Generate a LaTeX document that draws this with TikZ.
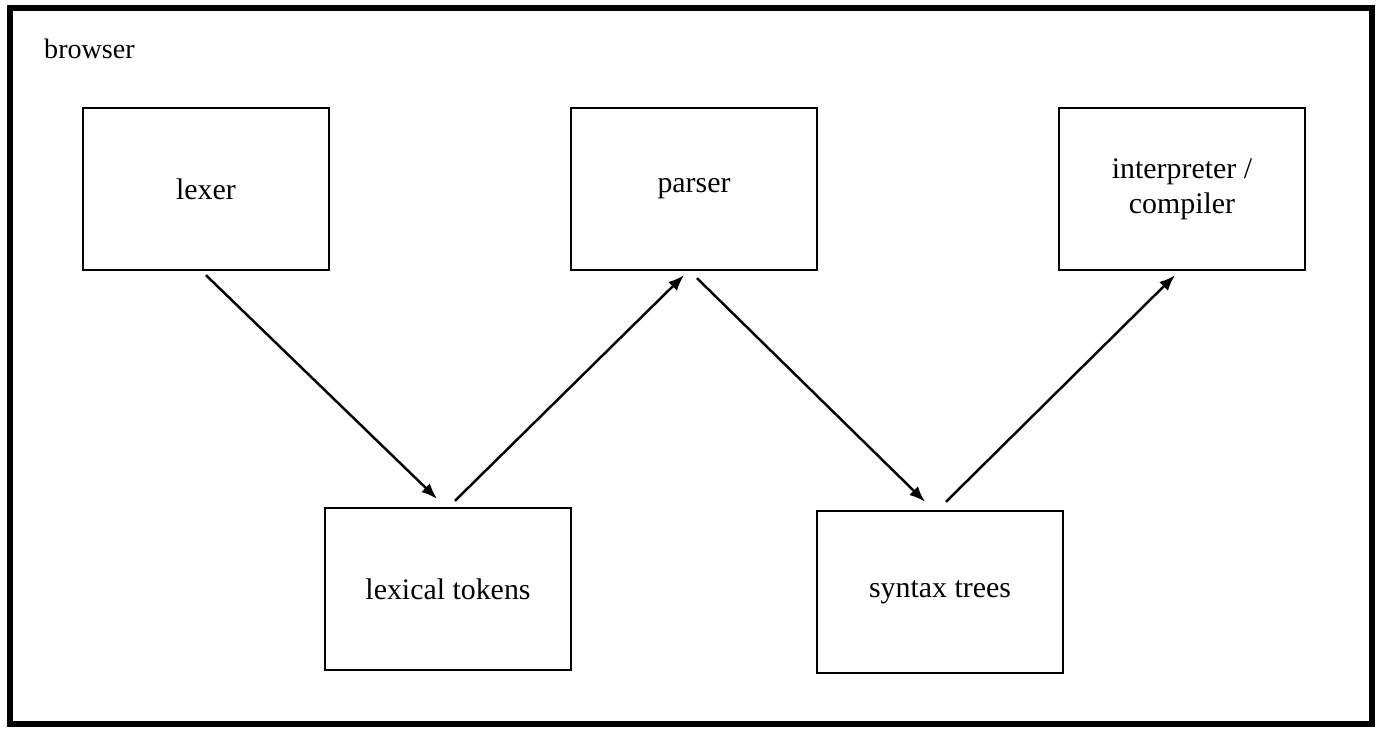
\documentclass[tikz,border=0pt]{standalone}
\usepackage{fontspec}
\setmainfont{Liberation Serif}
\usetikzlibrary{arrows.meta,positioning}
\tikzset{
  stage/.style={draw,line width=1.4pt,minimum width=4.92cm,minimum height=3.24cm,
    align=center,font=\fontsize{17}{20}\selectfont,inner sep=0pt},
  flow/.style={line width=1.4pt,-{Latex[length=9pt,width=7pt]}}
}
\begin{document}
\begin{tikzpicture}[x=0.02cm,y=-0.02cm]
\useasboundingbox (0,0) rectangle (1390,739);
\draw[line width=3pt] (10,8) rectangle (1372,724);
\node[anchor=base west,font=\fontsize{16}{19}\selectfont] (title) at (38,59) {browser};
\node[stage] (lexer) at (206,189) {lexer};
\node[stage] (parser) at (694,189) {parser};
\node[stage] (interp) at (1182,189) {interpreter /\\compiler};
\node[stage] (tokens) at (448,589) {lexical tokens};
\node[stage] (trees) at (940,592) {syntax trees};
\draw[flow] ([yshift=-0.08cm]lexer.south) -- ([xshift=-0.22cm,yshift=0.16cm]tokens.north);
\draw[flow] ([xshift=0.14cm,yshift=0.12cm]tokens.north) -- ([xshift=-0.2cm,yshift=-0.08cm]parser.south);
\draw[flow] ([xshift=0.06cm,yshift=-0.14cm]parser.south) -- ([xshift=-0.3cm,yshift=0.16cm]trees.north);
\draw[flow] ([xshift=0.12cm,yshift=0.16cm]trees.north) -- ([xshift=-0.14cm,yshift=-0.08cm]interp.south);
\end{tikzpicture}
\end{document}
